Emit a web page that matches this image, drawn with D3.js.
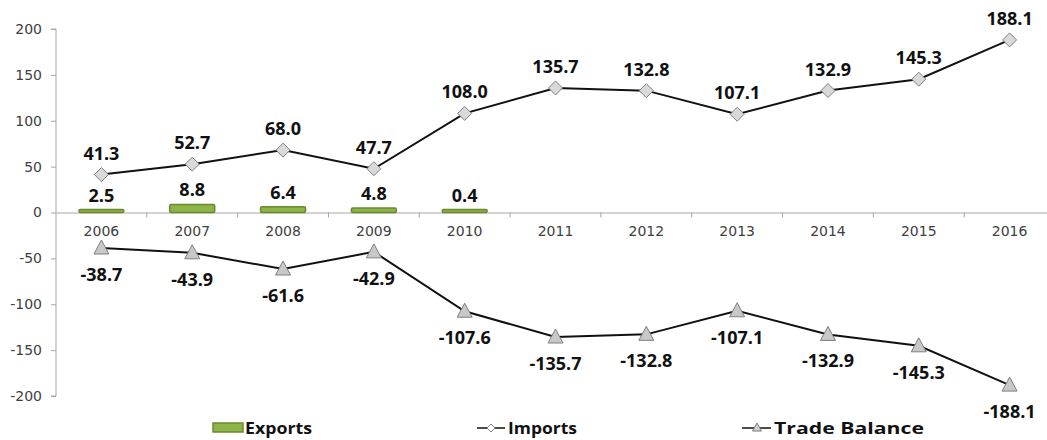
<!DOCTYPE html>
<html>
<head>
<meta charset="utf-8">
<script src="https://cdn.jsdelivr.net/npm/d3@7/dist/d3.min.js"></script>
<style>
  body { margin: 0; background: #fff; }
  svg { display: block; }
</style>
</head>
<body>
<div id="chart"></div>
<script>
// data
const years = ['2006','2007','2008','2009','2010','2011','2012','2013','2014','2015','2016'];
const exportsVals = [2.5, 8.8, 6.4, 4.8, 0.4, null, null, null, null, null, null];
const importsVals = [41.3, 52.7, 68.0, 47.7, 108.0, 135.7, 132.8, 107.1, 132.9, 145.3, 188.1];
const balanceVals = [-38.7, -43.9, -61.6, -42.9, -107.6, -135.7, -132.8, -107.1, -132.9, -145.3, -188.1];
const yTicks = [200, 150, 100, 50, 0, -50, -100, -150, -200];

const W = 1047, H = 440;
const svg = d3.select('#chart').append('svg').attr('width', W).attr('height', H);

const x = d3.scaleBand().domain(years).range([56, 1055]).paddingInner(0).paddingOuter(0);
const y = d3.scaleLinear().domain([-200, 200]).range([396, 29]);

const labelFont = 'Open Sans, Liberation Sans, sans-serif';
const axisFont = 'DejaVu Sans, sans-serif';

// y axis
const yAxis = svg.append('g')
  .attr('transform', 'translate(56,0)')
  .call(d3.axisLeft(y).tickValues(yTicks).tickSize(5).tickFormat(d => String(d)));
yAxis.select('.domain').attr('stroke', '#a6a6a6').attr('d', `M-5,${y(200)}H0V${y(-200)}H-5`);
yAxis.selectAll('.tick line').attr('stroke', '#a6a6a6');
yAxis.selectAll('.tick text')
  .attr('fill', '#404040').attr('font-size', 14).attr('font-family', axisFont).attr('x', -14);

// x axis at zero
const xAxis = svg.append('g')
  .attr('transform', `translate(0,${y(0)})`)
  .call(d3.axisBottom(x).tickSize(0).tickPadding(14));
xAxis.select('.domain').attr('stroke', '#a6a6a6');
xAxis.selectAll('.tick text')
  .attr('fill', '#404040').attr('font-size', 14).attr('font-family', axisFont);
// category separator ticks
svg.append('g').selectAll('line')
  .data(years.slice(1))
  .join('line')
  .attr('x1', d => x(d)).attr('x2', d => x(d))
  .attr('y1', y(0)).attr('y2', y(0) + 5)
  .attr('stroke', '#a6a6a6');

// export bars
const bw = 45;
const expData = years.map((d, i) => ({ year: d, v: exportsVals[i] })).filter(d => d.v != null);
svg.append('g').selectAll('rect')
  .data(expData)
  .join('rect')
  .attr('x', d => x(d.year) + x.bandwidth() / 2 - bw / 2)
  .attr('y', d => Math.min(y(d.v), y(0) - 3))
  .attr('width', bw)
  .attr('height', d => Math.max(y(0) - y(d.v), 3))
  .attr('rx', 1.5)
  .attr('fill', '#8db446')
  .attr('stroke', '#6a8a2e')
  .attr('stroke-width', 1.5);
svg.append('g').selectAll('text')
  .data(expData)
  .join('text')
  .attr('x', d => x(d.year) + x.bandwidth() / 2)
  .attr('y', d => Math.min(y(d.v), y(0) - 3) - 8)
  .attr('text-anchor', 'middle')
  .attr('font-family', labelFont).attr('font-weight', 'bold').attr('font-size', 18)
  .attr('fill', '#111')
  .text(d => d.v.toFixed(1));

const cx = d => x(d) + x.bandwidth() / 2;
const line = d3.line().x(d => cx(d.year)).y(d => y(d.v));

// imports
const impData = years.map((d, i) => ({ year: d, v: importsVals[i] }));
svg.append('path').datum(impData)
  .attr('d', line).attr('fill', 'none').attr('stroke', '#111').attr('stroke-width', 2);
svg.append('g').selectAll('path')
  .data(impData)
  .join('path')
  .attr('transform', d => `translate(${cx(d.year)},${y(d.v)})`)
  .attr('d', 'M0,-7L7,0L0,7L-7,0Z')
  .attr('fill', '#d9d9d9').attr('stroke', '#7f7f7f').attr('stroke-width', 1);
svg.append('g').selectAll('text')
  .data(impData)
  .join('text')
  .attr('x', d => cx(d.year))
  .attr('y', d => y(d.v) - 15)
  .attr('text-anchor', 'middle')
  .attr('font-family', labelFont).attr('font-weight', 'bold').attr('font-size', 18)
  .attr('fill', '#111')
  .text(d => d.v.toFixed(1));

// trade balance
const balData = years.map((d, i) => ({ year: d, v: balanceVals[i] }));
svg.append('path').datum(balData)
  .attr('d', line).attr('fill', 'none').attr('stroke', '#111').attr('stroke-width', 2);
svg.append('g').selectAll('path')
  .data(balData)
  .join('path')
  .attr('transform', d => `translate(${cx(d.year)},${y(d.v)})`)
  .attr('d', 'M0,-8L7.5,6L-7.5,6Z')
  .attr('fill', '#c8c8c8').attr('stroke', '#7f7f7f').attr('stroke-width', 1);
svg.append('g').selectAll('text')
  .data(balData)
  .join('text')
  .attr('x', d => cx(d.year))
  .attr('y', d => y(d.v) + 33)
  .attr('text-anchor', 'middle')
  .attr('font-family', labelFont).attr('font-weight', 'bold').attr('font-size', 18)
  .attr('fill', '#111')
  .text(d => d.v.toFixed(1));

// legend
const lg = svg.append('g').attr('font-family', labelFont)
  .attr('font-weight', 'bold').attr('font-size', 16).attr('fill', '#111');
lg.append('rect').attr('x', 213).attr('y', 423).attr('width', 30).attr('height', 9)
  .attr('fill', '#8db446').attr('stroke', '#6a8a2e').attr('stroke-width', 1.5);
lg.append('text').attr('x', 245).attr('y', 434).attr('textLength', 67).attr('lengthAdjust', 'spacingAndGlyphs').text('Exports');
lg.append('line').attr('x1', 477).attr('x2', 505).attr('y1', 428).attr('y2', 428).attr('stroke', '#111').attr('stroke-width', 1.5);
lg.append('path').attr('transform', 'translate(491,428)').attr('d', 'M0,-4L4,0L0,4L-4,0Z')
  .attr('fill', '#fff').attr('stroke', '#7f7f7f');
lg.append('text').attr('x', 508).attr('y', 434).attr('textLength', 69).attr('lengthAdjust', 'spacingAndGlyphs').text('Imports');
lg.append('line').attr('x1', 742).attr('x2', 771).attr('y1', 428).attr('y2', 428).attr('stroke', '#111').attr('stroke-width', 1.5);
lg.append('path').attr('transform', 'translate(757,428)').attr('d', 'M0,-5L4.5,3L-4.5,3Z')
  .attr('fill', '#d0d0d0').attr('stroke', '#7f7f7f');
lg.append('text').attr('x', 774).attr('y', 434).attr('textLength', 150).attr('lengthAdjust', 'spacingAndGlyphs').text('Trade Balance');
</script>
</body>
</html>
